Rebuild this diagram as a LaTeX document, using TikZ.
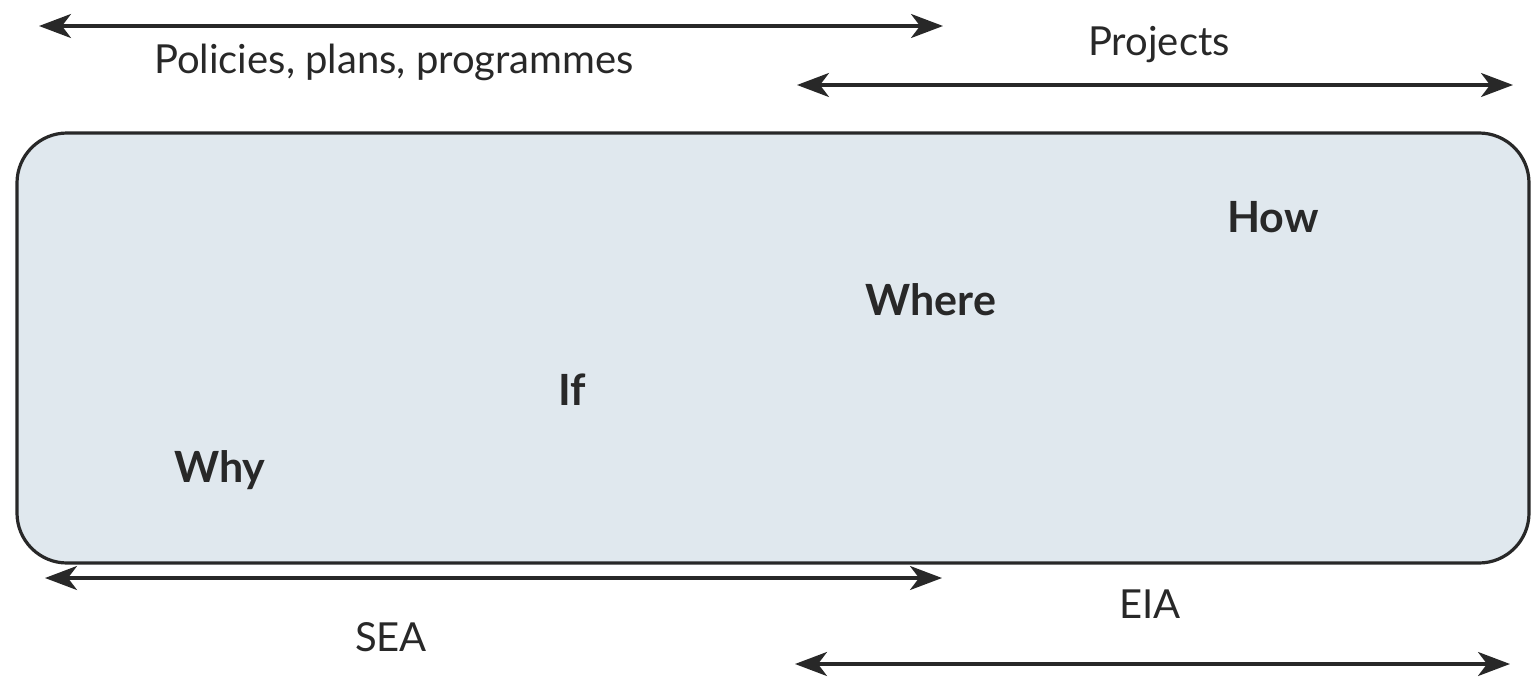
\documentclass[tikz,border=0pt]{standalone}
\usepackage{fontspec}
\setmainfont{Lato}
\usetikzlibrary{arrows.meta}
\definecolor{Caja}{RGB}{224, 232, 238}
\definecolor{Tinta}{RGB}{40, 40, 40}

\begin{document}
\begin{tikzpicture}[x=0.5pt,y=-0.5pt,
    flecha/.style={{Stealth[length=16pt,width=12pt,inset=4.5pt]}-{Stealth[length=16pt,width=12pt,inset=4.5pt]}, line width=1.6pt, draw=Tinta},
    rotulo/.style={font=\fontsize{20}{24}\selectfont, text=Tinta, inner sep=0pt},
    pregunta/.style={font=\fontsize{21.5}{26}\selectfont\bfseries, text=Tinta, inner sep=0pt},
    caja/.style={draw=Tinta, line width=1.6pt, fill=Caja, rounded corners=25pt, minimum width=756pt, minimum height=215pt, inner sep=0pt}]
    \useasboundingbox (0,0) rectangle (1532,680);
    %Marco central
    \node[caja] (marco) at (773,348) {};
    \node[pregunta] (how) at (1273,217) {How};
    \node[pregunta] (where) at (931,300) {Where};
    \node[pregunta] (if) at (572,390) {If};
    \node[pregunta] (why) at (220,470) {Why};
    %Flechas de arriba
    \coordinate (pppIzq) at (39,26);
    \coordinate (pppDer) at (943,26);
    \coordinate (proyIzq) at (797,85);
    \coordinate (proyDer) at (1513,85);
    \draw[flecha] (pppIzq) -- (pppDer);
    \draw[flecha] (proyIzq) -- (proyDer);
    \node[rotulo] (ppp) at (394,62) {Policies, plans, programmes};
    \node[rotulo] (proy) at (1159,45) {Projects};
    %Flechas de abajo
    \coordinate (seaIzq) at (45,578);
    \coordinate (seaDer) at (942,578);
    \coordinate (eiaIzq) at (795,664);
    \coordinate (eiaDer) at (1510,664);
    \draw[flecha] (seaIzq) -- (seaDer);
    \draw[flecha] (eiaIzq) -- (eiaDer);
    \node[rotulo] (sea) at (391,637) {SEA};
    \node[rotulo] (eia) at (1150,604) {EIA};
\end{tikzpicture}
\end{document}
